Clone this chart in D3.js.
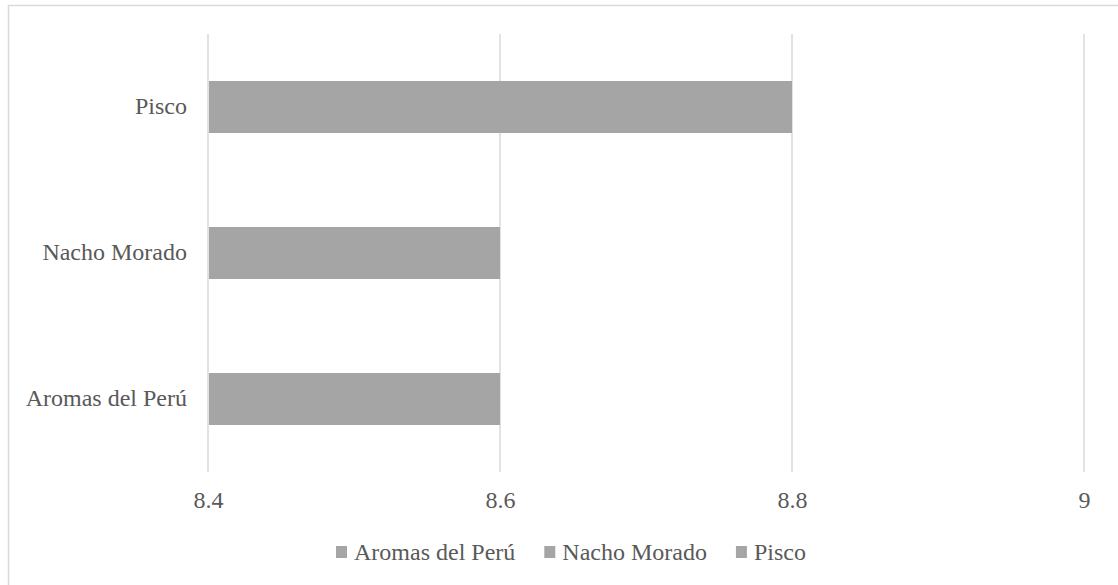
<!DOCTYPE html>
<html>
<head>
<meta charset="utf-8">
<script src="https://cdn.jsdelivr.net/npm/d3@7"></script>
<style>
  html, body { margin: 0; padding: 0; background: #fff; }
  svg { display: block; }
  svg text { font-family: "Times New Roman", "Liberation Serif", Tinos, serif !important; fill: #595959; }
</style>
</head>
<body>
<svg id="chart" width="1118" height="585"></svg>
<script>
const categories = ["Aromas del Perú", "Nacho Morado", "Pisco"];
const values = [8.6, 8.6, 8.8];
const tickValues = [8.4, 8.6, 8.8, 9];
const legendLabels = ["Aromas del Perú", "Nacho Morado", "Pisco"];

const FONT = '"Times New Roman", "Liberation Serif", Tinos, serif';
const svg = d3.select("#chart");
const W = 1118, H = 585;
const plot = { left: 208, right: 1084, top: 34, bottom: 472 };
const barColor = "#A5A5A5";
const gridColor = "#D9D9D9";

// chart border
svg.append("rect")
  .attr("x", 8.5).attr("y", 5.5)
  .attr("width", W).attr("height", H)
  .attr("fill", "none").attr("stroke", gridColor).attr("stroke-width", 1.5);

const x = d3.scaleLinear().domain([8.4, 9]).range([plot.left, plot.right]);
// Pisco at top, Aromas at bottom
const y = d3.scaleBand()
  .domain(categories.slice().reverse())
  .range([plot.top, plot.bottom])
  .paddingInner(0.644).paddingOuter(0.322);

// gridlines
svg.append("g").selectAll("line").data(tickValues).join("line")
  .attr("x1", d => x(d)).attr("x2", d => x(d))
  .attr("y1", plot.top).attr("y2", plot.bottom)
  .attr("stroke", gridColor).attr("stroke-width", 1.5);

// bars
svg.append("g").selectAll("rect").data(categories).join("rect")
  .attr("x", x(8.4) + 1)
  .attr("y", d => y(d))
  .attr("width", (d, i) => x(values[i]) - x(8.4) - 1)
  .attr("height", y.bandwidth())
  .attr("fill", barColor);

// x axis labels
const xAxis = d3.axisBottom(x).tickValues(tickValues).tickSize(0).tickPadding(0)
  .tickFormat(d => d3.format("")(d));
const gx = svg.append("g").attr("transform", `translate(0,${plot.bottom})`).call(xAxis)
  .attr("font-family", FONT).attr("font-size", 24);
gx.select(".domain").remove();
gx.selectAll("text")
  .attr("y", 36).attr("dy", null)
  .style("font-size", "24px").attr("fill", "#595959");

// y axis labels
const yAxis = d3.axisLeft(y).tickSize(0).tickPadding(0);
const gy = svg.append("g").attr("transform", `translate(187,0)`).call(yAxis)
  .attr("font-family", FONT).attr("font-size", 24);
gy.select(".domain").remove();
gy.selectAll("text")
  .attr("x", 0).attr("dy", "0.3em")
  .style("font-size", "24px").attr("fill", "#595959");

// legend
const legend = svg.append("g").attr("font-family", FONT);
let lx = 336;
const ly = 552;
legendLabels.forEach((lab, i) => {
  const g = legend.append("g");
  g.append("rect").attr("x", lx).attr("y", ly - 6).attr("width", 11).attr("height", 12)
    .attr("fill", barColor);
  const t = g.append("text").attr("x", lx + 18).attr("y", ly + 8)
    .style("font-size", "24px").text(lab);
  const w = t.node().getComputedTextLength();
  lx = lx + 18 + w + 29;
});
</script>
</body>
</html>
